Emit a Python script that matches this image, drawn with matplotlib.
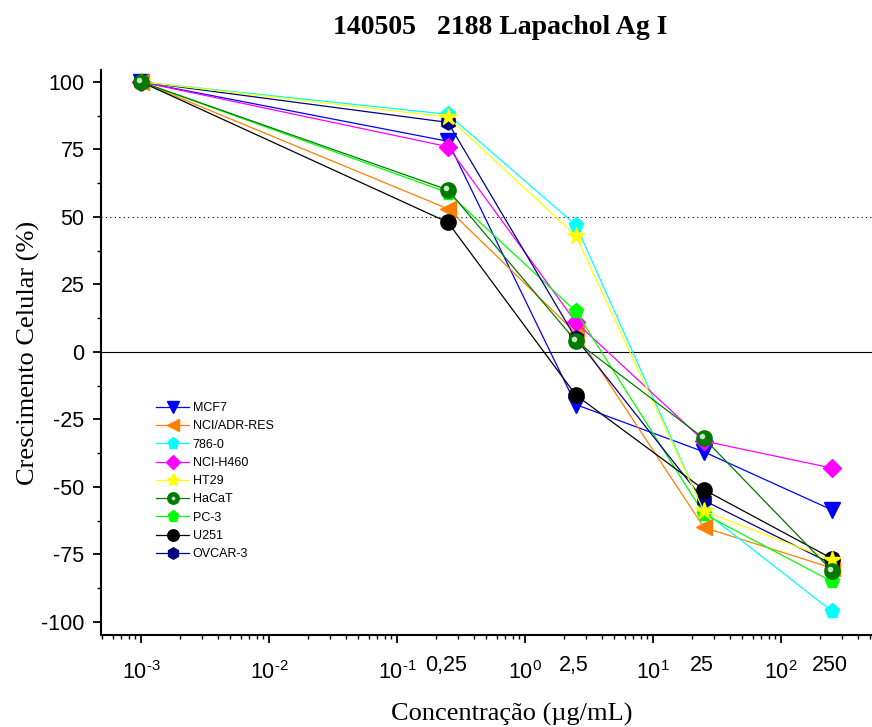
import matplotlib
matplotlib.use("Agg")
import matplotlib.pyplot as plt
from matplotlib.transforms import offset_copy, blended_transform_factory
from matplotlib.legend_handler import HandlerTuple
from matplotlib.ticker import FuncFormatter
import numpy as np

plt.rcParams['font.family'] = ['Liberation Sans', 'DejaVu Sans']
plt.rcParams['mathtext.fontset'] = 'custom'
plt.rcParams['mathtext.rm'] = 'Liberation Sans'
plt.rcParams['mathtext.default'] = 'regular'
plt.rcParams['axes.unicode_minus'] = False

# concentrações testadas (ug/mL)
conc = [0.001, 0.25, 2.5, 25, 250]
conc_labels = ["0,25", "2,5", "25", "250"]

# crescimento celular (%) por linhagem
mcf7 = [100, 78, -19.5, -37, -58.5]
nci_adr = [100, 53, 7, -65, -80]
c786 = [100, 88, 47, -59, -96]
nci_h460 = [100, 76, 11, -33, -43]
ht29 = [100, 87, 43, -59, -77]
hacat = [100, 60, 4, -32, -81]
pc3 = [100, 59, 15, -60, -85]
u251 = [100, 48, -16, -51, -76.5]
ovcar3 = [100, 85, 5, -55, -78.5]

series = [
    ("MCF7", mcf7, "#0000FF", "v", 2),
    ("NCI/ADR-RES", nci_adr, "#FF7F00", "<", 2),
    ("786-0", c786, "#00FFFF", "p", 2),
    ("NCI-H460", nci_h460, "#FF00FF", "D", 2),
    ("HT29", ht29, "#FFFF00", "*", 5),
    ("HaCaT", hacat, "#007A00", "o", 6),
    ("PC-3", pc3, "#00FF00", "p", 3),
    ("U251", u251, "#000000", "o", 4),
    ("OVCAR-3", ovcar3, "#000080", "h", 3),
]

fig = plt.figure(figsize=(8.72, 7.27), dpi=100)
ax = fig.add_axes([0.1158, 0.1266, 0.8842, 0.7771])

handles = []
for name, vals, col, mk, z in series:
    ms = 13 if mk == "*" else (9 if mk == "D" else 11)
    line, = ax.plot(conc, vals, color=col, lw=0.9, marker=mk, ms=ms,
                    markeredgecolor=col, zorder=z, label=name)
    if name == "HaCaT":
        # brilho da esfera
        tr = offset_copy(ax.transData, fig=fig, x=-1.5, y=1.5, units='points')
        ax.plot(conc, vals, ls='none', marker='o', ms=4, color='#c8e8c8',
                markeredgecolor='none', zorder=z + 0.1, transform=tr)
        hl_leg, = ax.plot([], [], ls='none', marker='o', ms=3.5,
                          color='#c8e8c8', markeredgecolor='none')
        handles.append((line, hl_leg))
    else:
        handles.append(line)

ax.axhline(0, color='black', lw=0.8, zorder=1)
ax.axhline(50, color='black', lw=0.8, ls=(0, (1, 3)), zorder=1)

ax.set_xscale('log')
ax.set_xlim(10 ** -3.3125, 10 ** 2.711)
ax.set_ylim(-104.8, 104.4)
ax.set_yticks([100, 75, 50, 25, 0, -25, -50, -75, -100])
ax.set_yticks([87.5, 62.5, 37.5, 12.5, -12.5, -37.5, -62.5, -87.5], minor=True)
ax.set_xticks([1e-3, 1e-2, 1e-1, 1e0, 1e1, 1e2])
ax.xaxis.set_major_formatter(
    FuncFormatter(lambda v, p: "$10^{%s}$" % int(round(np.log10(v))).__str__()
                  .replace("-", r"\text{-}")))

for s in ['top', 'right']:
    ax.spines[s].set_visible(False)
for s in ['left', 'bottom']:
    ax.spines[s].set_linewidth(1.5)

ax.tick_params(axis='both', which='major', direction='out', length=6, width=1.3,
               labelsize=15.5)
ax.tick_params(axis='both', which='minor', direction='out', length=3, width=1.0)
ax.tick_params(axis='x', pad=13)
ax.tick_params(axis='y', pad=6)

# rótulos das concentrações reais
trans = blended_transform_factory(ax.transData, ax.transAxes)
for c, lab in zip(conc[1:], conc_labels):
    ax.text(c * 0.96, -0.035, lab, transform=trans, ha='center', va='top',
            fontsize=15.5)

ax.set_xlabel("Concentração (µg/mL)", fontsize=19, family='Liberation Serif')
ax.xaxis.set_label_coords(0.533, -0.121)
ax.set_ylabel("Crescimento Celular (%)", fontsize=19, family='Liberation Serif',
              labelpad=1)
fig.text(0.574, 0.962, "140505   2188 Lapachol Ag I", ha='center', va='center',
         fontsize=20, fontweight='bold', family='Liberation Serif')

ax.legend(handles, [s[0] for s in series], loc='upper left',
          bbox_to_anchor=(0.072, 0.412), frameon=False, fontsize=9,
          markerscale=0.75, handlelength=2.6, handletextpad=0.3,
          labelspacing=0.5, borderpad=0, borderaxespad=0,
          handler_map={tuple: HandlerTuple(ndivide=1)})

fig.savefig("out.png", dpi=100)
